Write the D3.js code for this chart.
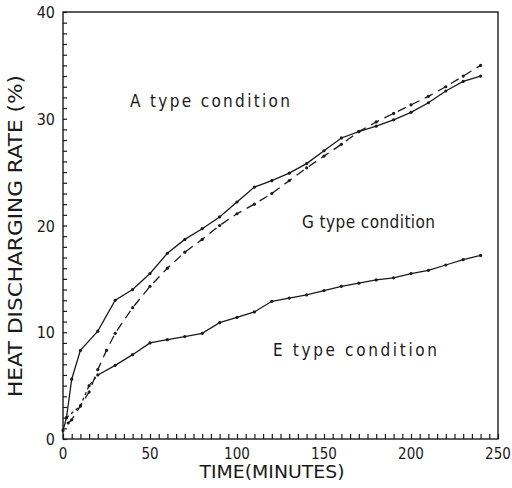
<!DOCTYPE html>
<html>
<head>
<meta charset="utf-8">
<style>
  body { margin: 0; background: #fff; }
  svg { display: block; font-family: "DejaVu Sans Condensed", "Liberation Sans", sans-serif; }
</style>
</head>
<body>
<svg id="chart"></svg>
<script src="https://d3js.org/d3.v7.min.js"></script>
<script>
// minutes at which each curve was sampled
const timeA = [0, 2, 5, 10, 20, 30, 40, 50, 60, 70, 80, 90, 100, 110, 120, 130, 140, 150, 160, 170, 180, 190, 200, 210, 220, 230, 240];
const rateA = [0.8, 2.0, 5.6, 8.3, 10.1, 13.0, 14.0, 15.5, 17.4, 18.7, 19.7, 20.8, 22.2, 23.6, 24.2, 24.9, 25.8, 27.0, 28.2, 28.8, 29.3, 29.9, 30.6, 31.5, 32.6, 33.5, 34.0];

const timeG = [3, 5, 10, 15, 20, 25, 30, 40, 50, 60, 70, 80, 90, 100, 110, 120, 130, 140, 150, 160, 170, 180, 190, 200, 210, 220, 230, 240];
const rateG = [1.5, 1.8, 3.1, 4.4, 6.5, 8.3, 9.9, 12.3, 14.3, 16.0, 17.5, 18.7, 20.0, 21.1, 22.0, 23.0, 24.2, 25.4, 26.5, 27.6, 28.8, 29.7, 30.5, 31.3, 32.1, 33.0, 34.0, 35.0];

const timeE = [2, 10, 15, 20, 30, 40, 50, 60, 70, 80, 90, 100, 110, 120, 130, 140, 150, 160, 170, 180, 190, 200, 210, 220, 230, 240];
const rateE = [2.0, 3.1, 5.0, 6.0, 6.9, 7.9, 9.0, 9.3, 9.6, 9.9, 10.9, 11.4, 11.9, 12.9, 13.2, 13.5, 13.9, 14.3, 14.6, 14.9, 15.1, 15.5, 15.8, 16.3, 16.8, 17.2];

const xTicks = [0, 50, 100, 150, 200, 250];
const yTicks = [0, 10, 20, 30, 40];
const labels = ["A type condition", "G type condition", "E type condition"];

const width = 512, height = 488;
const margin = { top: 12, right: 14, bottom: 49, left: 63 };

const svg = d3.select("#chart").attr("width", width).attr("height", height);

const x = d3.scaleLinear().domain([0, 250]).range([margin.left, width - margin.right]);
const y = d3.scaleLinear().domain([0, 40]).range([height - margin.bottom, margin.top]);

const ink = "#1a1a1a";

// frame
svg.append("rect")
  .attr("x", x(0)).attr("y", y(40))
  .attr("width", x(250) - x(0)).attr("height", y(0) - y(40))
  .attr("fill", "none").attr("stroke", ink).attr("stroke-width", 1.4);

// bottom axis, ticks point inward
const xAxis = svg.append("g")
  .attr("transform", `translate(0,${y(0)})`)
  .call(d3.axisBottom(x).tickValues(d3.range(0, 251, 5)).tickSize(-5).tickFormat(""));
xAxis.select(".domain").remove();
xAxis.selectAll("line").attr("stroke", ink).attr("stroke-width", 1.2);

svg.append("g").selectAll("text").data(xTicks).join("text")
  .attr("x", d => x(d)).attr("y", y(0) + 20)
  .attr("text-anchor", "middle").attr("font-size", 15).attr("fill", ink)
  .text(d => d);

// left axis
const yAxis = svg.append("g")
  .attr("transform", `translate(${x(0)},0)`)
  .call(d3.axisLeft(y).tickValues(d3.range(0, 41, 1)).tickSize(-4).tickFormat(""));
yAxis.select(".domain").remove();
yAxis.selectAll("line").attr("stroke", ink).attr("stroke-width", 1.2);

svg.append("g").selectAll("text").data(yTicks).join("text")
  .attr("x", x(0) - 8).attr("y", d => y(d) + 6)
  .attr("text-anchor", "end").attr("font-size", 16).attr("fill", ink)
  .text(d => d);

// axis titles
svg.append("text")
  .attr("x", 272).attr("y", 478)
  .attr("text-anchor", "middle").attr("font-size", 17).attr("fill", ink)
  .attr("textLength", 145).attr("lengthAdjust", "spacingAndGlyphs")
  .text("TIME(MINUTES)");

svg.append("text")
  .attr("transform", "translate(22,236) rotate(-90)")
  .attr("text-anchor", "middle").attr("font-size", 19).attr("fill", ink)
  .attr("textLength", 322).attr("lengthAdjust", "spacingAndGlyphs")
  .text("HEAT DISCHARGING RATE (%)");

// curves
const series = [
  { t: timeA, v: rateA, dash: null },
  { t: timeG, v: rateG, dash: "9,6" },
  { t: timeE, v: rateE, dash: null }
];

const line = d3.line().x(d => x(d[0])).y(d => y(d[1]));

series.forEach(s => {
  const pts = s.t.map((t, i) => [t, s.v[i]]);
  if (s.t === timeE) {
    // first part of E curve drawn dotted
    const head = pts.filter(p => p[0] <= 20);
    const tail = pts.filter(p => p[0] >= 20);
    svg.append("path").attr("d", line(head))
      .attr("fill", "none").attr("stroke", ink).attr("stroke-width", 1.3)
      .attr("stroke-dasharray", "3,3");
    svg.append("path").attr("d", line(tail))
      .attr("fill", "none").attr("stroke", ink).attr("stroke-width", 1.3);
  } else {
    svg.append("path").attr("d", line(pts))
      .attr("fill", "none").attr("stroke", ink).attr("stroke-width", 1.3)
      .attr("stroke-dasharray", s.dash);
  }
  svg.append("g").selectAll("circle").data(pts).join("circle")
    .attr("cx", d => x(d[0])).attr("cy", d => y(d[1])).attr("r", 1.6)
    .attr("fill", ink);
});

// annotations
const notePos = [[130, 107, 160], [302, 228, 133], [273, 356, 164]];
svg.append("g").selectAll("text").data(labels).join("text")
  .attr("x", (d, i) => notePos[i][0]).attr("y", (d, i) => notePos[i][1])
  .attr("font-size", 17).attr("fill", ink)
  .attr("textLength", (d, i) => notePos[i][2]).attr("lengthAdjust", "spacing")
  .text(d => d);
</script>
</body>
</html>
